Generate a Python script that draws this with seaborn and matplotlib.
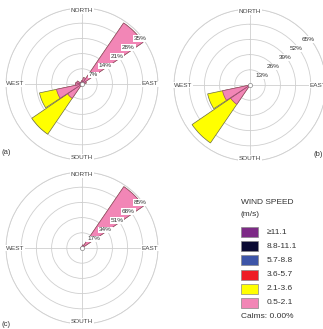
import numpy as np
import pandas as pd
import seaborn as sns
import matplotlib.pyplot as plt
from matplotlib.patches import Rectangle

# 16 compass sectors, N first, clockwise
dirs = ['N', 'NNE', 'NE', 'ENE', 'E', 'ESE', 'SE', 'SSE',
        'S', 'SSW', 'SW', 'WSW', 'W', 'WNW', 'NW', 'NNW']
theta_deg = [0, 22.5, 45, 67.5, 90, 112.5, 135, 157.5,
             180, 202.5, 225, 247.5, 270, 292.5, 315, 337.5]

# frequency (%) per class, panel (a)
pink_a = [1.5, 3, 34, 2, 1, 0.5, 0.5, 0.5, 0.5, 1, 8, 12, 3, 2.5, 1, 1]
yellow_a = [0, 0, 0, 0, 0, 0, 0, 0, 0, 0, 20, 8, 0, 0, 0, 0]
# panel (b)
pink_b = [0.5, 0.5, 0.5, 0.5, 0.5, 0.5, 0.5, 0.5, 0.5, 1, 20, 24, 1, 0.5, 0.5, 0.5]
yellow_b = [0, 0, 0, 0, 0, 0, 0, 0, 0, 0, 40, 13, 0, 0, 0, 0]
# panel (c)
pink_c = [2, 3.5, 83, 1, 0.5, 0.5, 0.5, 0.5, 0.5, 0.5, 1, 1, 1.5, 1, 0.5, 0.5]
yellow_c = [0] * 16

rings_a = [7, 14, 21, 28, 35]
rings_b = [13, 26, 39, 52, 65]
rings_c = [17, 34, 51, 68, 85]

speed_classes = ['\u226511.1', '8.8-11.1', '5.7-8.8', '3.6-5.7', '2.1-3.6', '0.5-2.1']
class_colors = ['#7d2a86', '#0b0b33', '#3d55a8', '#ee1c25', '#ffff00', '#f286b6']
calms = 'Calms: 0.00%'

sns.set_style('white')
plt.rcParams['font.family'] = ['Liberation Sans', 'DejaVu Sans']

fig = plt.figure(figsize=(3.23, 3.29), dpi=100)


def rose(rect, pink, yellow, rings, letter, letter_xy):
    ax = fig.add_axes(rect, projection='polar')
    ax.set_theta_zero_location('N')
    ax.set_theta_direction(-1)
    df = pd.DataFrame({'theta': np.radians(theta_deg),
                       'pink': pink,
                       'total': np.array(pink) + np.array(yellow)})
    # outer (2.1-3.6) drawn as full total, inner (0.5-2.1) on top
    sns.barplot(data=df, x='theta', y='total', native_scale=True, width=0.95,
                color=class_colors[4], saturation=1, edgecolor='#6b6b40',
                linewidth=0.5, ax=ax, zorder=3)
    sns.barplot(data=df, x='theta', y='pink', native_scale=True, width=0.95,
                color=class_colors[5], saturation=1, edgecolor='#9a4a70',
                linewidth=0.5, ax=ax, zorder=4)
    ax.set_ylim(0, rings[-1])
    ax.set_xlim(0, 2 * np.pi)
    ax.set_yticks(rings)
    ax.set_yticklabels([])
    ax.set_xticks(np.radians([0, 90, 180, 270]))
    ax.set_xticklabels([])
    ax.set_xlabel('')
    ax.set_ylabel('')
    ax.grid(True, color='#cfcfcf', linewidth=0.6)
    ax.spines['polar'].set_color('#cfcfcf')
    ax.spines['polar'].set_linewidth(0.6)
    ax.plot([0], [0], 'o', ms=3, mfc='white', mec='#888888', mew=0.5, zorder=6)
    rmax = rings[-1]
    box = dict(facecolor='white', edgecolor='none', pad=0.4)
    ax.text(0, rmax, 'NORTH', ha='center', va='top', fontsize=4.6, color='#444444', bbox=box, zorder=7)
    ax.text(np.pi, rmax, 'SOUTH', ha='center', va='bottom', fontsize=4.6, color='#444444', bbox=box, zorder=7)
    ax.text(np.pi / 2, rmax, 'EAST', ha='right', va='center', fontsize=4.6, color='#444444', bbox=box, zorder=7)
    ax.text(1.5 * np.pi, rmax, 'WEST', ha='left', va='center', fontsize=4.6, color='#444444', bbox=box, zorder=7)
    for r in rings:
        ax.text(np.radians(52), r * 0.97, f'{r}%', ha='center', va='center',
                fontsize=4.6, color='#333333', bbox=dict(facecolor='white', edgecolor='none', pad=0.6), zorder=7)
    fig.text(letter_xy[0], letter_xy[1], letter, fontsize=5.5, color='#333333', ha='left', va='center')
    return ax


rose([0.0186, 0.5137, 0.4706, 0.462], pink_a, yellow_a, rings_a, '(a)', (0.005, 1 - 153 / 329))
rose([0.5387, 0.5106, 0.4706, 0.462], pink_b, yellow_b, rings_b, '(b)', (313 / 323, 1 - 155 / 329))
rose([0.0186, 0.0152, 0.4706, 0.462], pink_c, yellow_c, rings_c, '(c)', (0.005, 1 - 325 / 329))

# legend
W, H = 323, 329
fig.text(241 / W, 1 - 203 / H, 'WIND SPEED', fontsize=6, color='#333333', va='center', ha='left')
fig.text(241 / W, 1 - 215 / H, '(m/s)', fontsize=6, color='#333333', va='center', ha='left')
for i, (lab, col) in enumerate(zip(speed_classes, class_colors)):
    yc = 232 + 14.2 * i
    fig.add_artist(Rectangle((241 / W, 1 - (yc + 5) / H), 17 / W, 10 / H,
                             transform=fig.transFigure, facecolor=col,
                             edgecolor='#888888', linewidth=0.5))
    fig.text(267 / W, 1 - yc / H, lab, fontsize=6, color='#333333', va='center', ha='left')
fig.text(241 / W, 1 - 317 / H, calms, fontsize=6, color='#333333', va='center', ha='left')

fig.savefig('out.png', dpi=100)
